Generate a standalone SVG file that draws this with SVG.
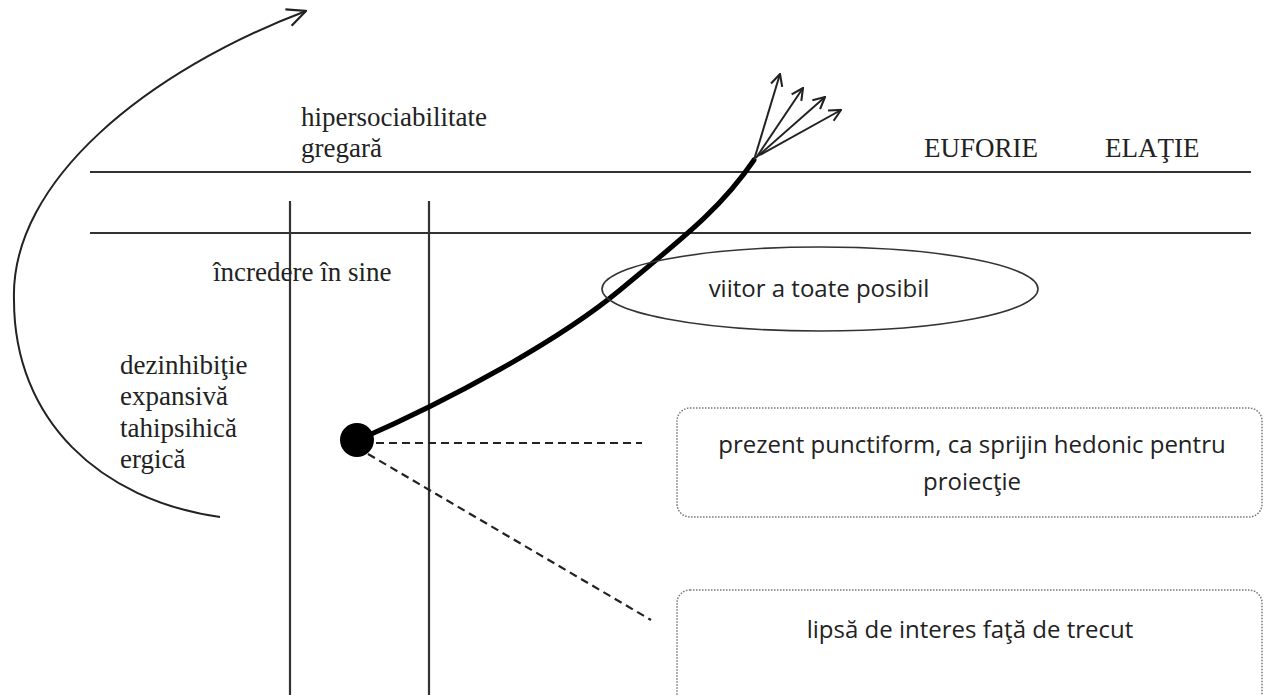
<svg xmlns="http://www.w3.org/2000/svg" width="1264" height="695" viewBox="0 0 1264 695">
<style>
.serif{font-family:"Liberation Serif","Times New Roman",serif;font-size:27px;fill:#222}
.sans{font-family:"Open Sans","Noto Sans",sans-serif;font-size:24px;fill:#222}
.rule{stroke:#333;stroke-width:2.2;fill:none}
.thin{stroke:#222;stroke-width:2;fill:none}
.dash{stroke:#222;stroke-width:2.2;stroke-dasharray:8 5;fill:none}
.box{fill:#fff;stroke:#777;stroke-width:1.5;stroke-dasharray:1.5 1.5}
</style>
<defs>
<marker id="openSmall" markerUnits="userSpaceOnUse" markerWidth="14" markerHeight="14" viewBox="0 0 12 12" refX="11" refY="6" orient="auto">
<path d="M1,1 L11,6 L1,11" fill="none" stroke="#222" stroke-width="1.8"/>
</marker>
<marker id="openBig" markerUnits="userSpaceOnUse" markerWidth="22" markerHeight="22" viewBox="0 0 20 20" refX="19" refY="10" orient="auto">
<path d="M2,2 L19,10 L2,18" fill="none" stroke="#222" stroke-width="2"/>
</marker>
</defs>
<rect width="1264" height="695" fill="#fff"/>
<g id="frame">
<line class="rule" x1="90" y1="172" x2="1251" y2="172"/>
<line class="rule" x1="90" y1="233" x2="1251" y2="233"/>
<line class="rule" x1="290" y1="201" x2="290" y2="695"/>
<line class="rule" x1="429" y1="201" x2="429" y2="695"/>
</g>
<g id="connectors">
<path class="thin" d="M220,517 C100,500 14,420 14,300 C10,180 150,70 306,11" marker-end="url(#openBig)"/>
<path d="M358,440 C450,400 560,340 620,290 C680,240 720,210 754,160" fill="none" stroke="#000" stroke-width="5" stroke-linecap="round"/>
<line class="thin" x1="754" y1="160" x2="780" y2="74" marker-end="url(#openSmall)"/>
<line class="thin" x1="756" y1="158" x2="803" y2="88" marker-end="url(#openSmall)"/>
<line class="thin" x1="758" y1="156" x2="825" y2="97" marker-end="url(#openSmall)"/>
<line class="thin" x1="760" y1="155" x2="841" y2="110" marker-end="url(#openSmall)"/>
<line class="dash" x1="376" y1="443" x2="642" y2="443"/>
<line class="dash" x1="368" y1="454" x2="651" y2="620"/>
</g>
<g id="label-hipersociabilitate">
<text class="serif" x="301" y="126">hipersociabilitate</text>
<text class="serif" x="301" y="157">gregară</text>
</g>
<g id="label-euforie"><text class="serif" x="924" y="157">EUFORIE</text></g>
<g id="label-elatie"><text class="serif" x="1105" y="157">ELAŢIE</text></g>
<g id="label-incredere"><text class="serif" x="213" y="281">încredere în sine</text></g>
<g id="label-dezinhibitie">
<text class="serif" x="120" y="374">dezinhibiţie</text>
<text class="serif" x="120" y="405">expansivă</text>
<text class="serif" x="120" y="437">tahipsihică</text>
<text class="serif" x="120" y="468">ergică</text>
</g>
<g id="node-viitor">
<ellipse cx="820" cy="289" rx="218" ry="42" fill="none" stroke="#333" stroke-width="1.6"/>
<text class="sans" x="819" y="297" text-anchor="middle">viitor a toate posibil</text>
</g>
<g id="node-prezent-dot"><circle cx="357" cy="440" r="17" fill="#000"/></g>
<g id="node-prezent">
<rect class="box" x="677" y="408" width="585" height="109" rx="13"/>
<text class="sans" x="972" y="453" text-anchor="middle">prezent punctiform, ca sprijin hedonic pentru</text>
<text class="sans" x="972" y="490" text-anchor="middle">proiecţie</text>
</g>
<g id="node-trecut">
<rect class="box" x="677" y="590" width="585" height="120" rx="13"/>
<text class="sans" x="970" y="638" text-anchor="middle">lipsă de interes faţă de trecut</text>
</g>
</svg>
